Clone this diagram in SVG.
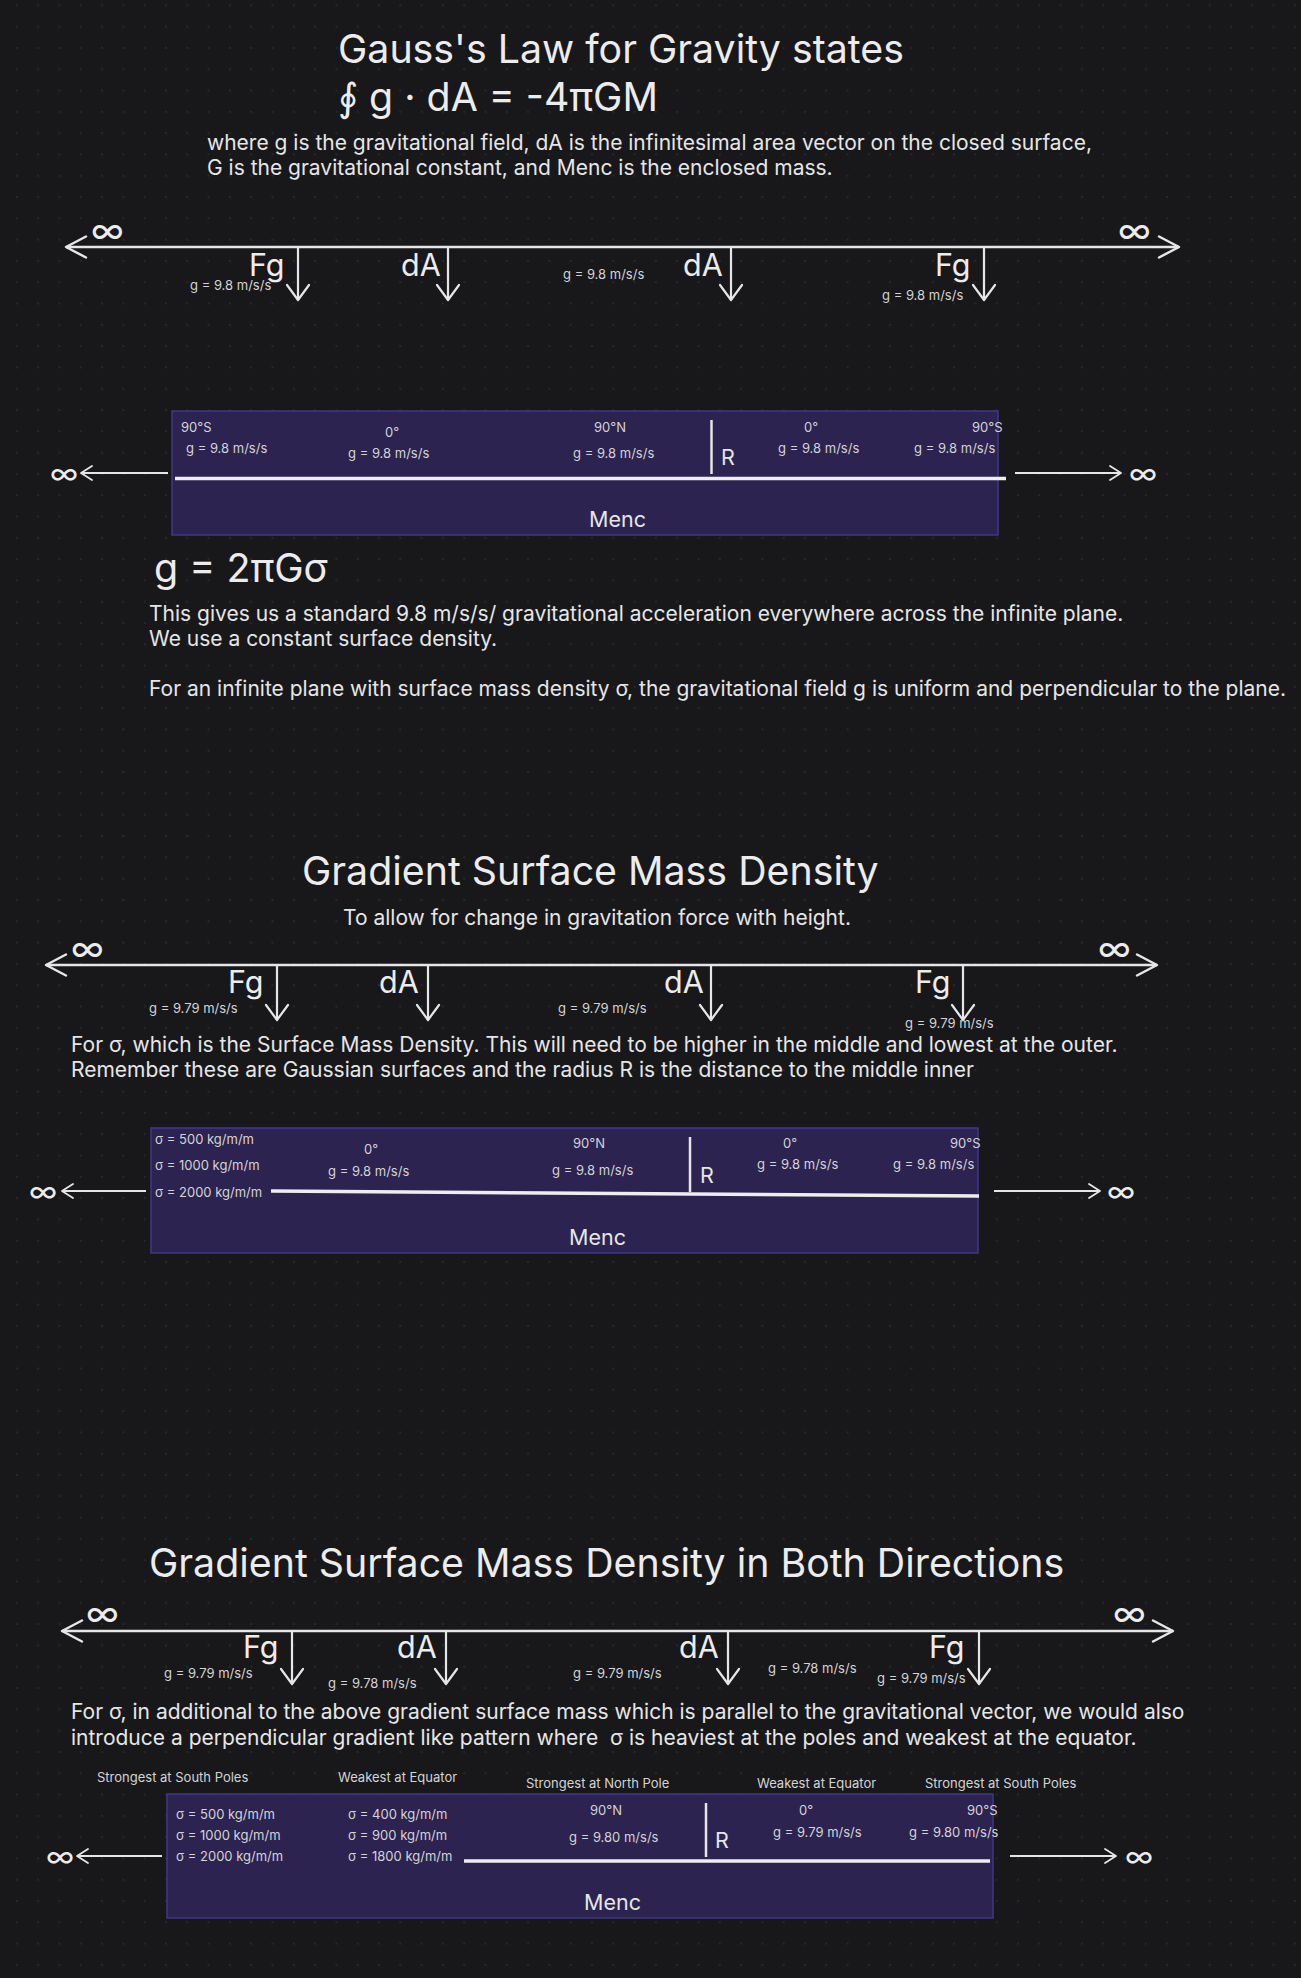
<svg xmlns="http://www.w3.org/2000/svg" width="1301" height="1978" viewBox="0 0 1301 1978">
<defs>
<pattern id="dots" x="16.9" y="5.3" width="21.3" height="21.3" patternUnits="userSpaceOnUse"><circle cx="0" cy="0" r="1" fill="#2c2c31"/><circle cx="21.3" cy="0" r="1" fill="#2c2c31"/><circle cx="0" cy="21.3" r="1" fill="#2c2c31"/><circle cx="21.3" cy="21.3" r="1" fill="#2c2c31"/></pattern>
<marker id="axHead" viewBox="-24 -14 28 28" refX="0" refY="0" markerWidth="28" markerHeight="28" markerUnits="userSpaceOnUse" orient="auto-start-reverse" overflow="visible"><path d="M-20,-10.5 L0,0 L-20,10.5" fill="none" stroke="#e6e6e6" stroke-width="2.5" stroke-linecap="round" stroke-linejoin="round"/></marker>
<marker id="downHead" viewBox="-20 -14 24 28" refX="0" refY="0" markerWidth="24" markerHeight="28" markerUnits="userSpaceOnUse" orient="auto" overflow="visible"><path d="M-15,-11 L0,0 L-15,11" fill="none" stroke="#e6e6e6" stroke-width="2.2" stroke-linecap="round" stroke-linejoin="round"/></marker>
<marker id="sideHead" viewBox="-14 -10 18 20" refX="0" refY="0" markerWidth="18" markerHeight="20" markerUnits="userSpaceOnUse" orient="auto" overflow="visible"><path d="M-11,-7 L0,0 L-11,7" fill="none" stroke="#e6e6e6" stroke-width="1.8" stroke-linecap="round" stroke-linejoin="round"/></marker>
</defs>
<style>
text{font-family:Inter,"Noto Sans","Liberation Sans",sans-serif;}
.title{font-size:39.3px;fill:#ececec;}
.body{font-size:21px;fill:#e6e6e6;}
.big{font-size:30.5px;fill:#ececec;}
.sm{font-size:13px;fill:#d4d4d4;}
.mid{font-size:21.5px;fill:#e6e6e6;}
.inf{font-size:35px;fill:#ececec;}
.infs{font-size:30px;fill:#ececec;}
.box{fill:#2c2350;stroke:#40378a;stroke-width:1.5;}
.axis{stroke:#e6e6e6;stroke-width:2.5;fill:none;}
.down{stroke:#e6e6e6;stroke-width:2.2;fill:none;}
.side{stroke:#e6e6e6;stroke-width:1.8;fill:none;}
.plane{stroke:#eeeeee;stroke-width:3.5;fill:none;}
.rline{stroke:#e6e6e6;stroke-width:2.5;fill:none;}
</style>
<rect width="1301" height="1978" fill="#18181b"/>
<rect width="1301" height="1978" fill="url(#dots)"/>

<g id="heading1">
<text class="title" x="338" y="63">Gauss's Law for Gravity states</text>
<text class="title" x="338" y="111">∮ g · dA = -4πGM</text>
</g>
<g id="intro1">
<text class="body" x="207" y="150">where g is the gravitational field, dA is the infinitesimal area vector on the closed surface,</text>
<text class="body" x="207" y="175">G is the gravitational constant, and Menc is the enclosed mass.</text>
</g>

<g id="connectors">
<line class="axis" x1="66" y1="247" x2="1179" y2="247" marker-start="url(#axHead)" marker-end="url(#axHead)"/>
<line class="down" x1="298" y1="247" x2="298" y2="300" marker-end="url(#downHead)"/>
<line class="down" x1="448" y1="247" x2="448" y2="300" marker-end="url(#downHead)"/>
<line class="down" x1="731" y1="247" x2="731" y2="300" marker-end="url(#downHead)"/>
<line class="down" x1="984" y1="247" x2="984" y2="300" marker-end="url(#downHead)"/>
<line class="side" x1="168" y1="473" x2="81" y2="473" marker-end="url(#sideHead)"/>
<line class="side" x1="1015" y1="473" x2="1121" y2="473" marker-end="url(#sideHead)"/>

<line class="axis" x1="46" y1="965" x2="1157" y2="965" marker-start="url(#axHead)" marker-end="url(#axHead)"/>
<line class="down" x1="277" y1="965" x2="277" y2="1020" marker-end="url(#downHead)"/>
<line class="down" x1="428" y1="965" x2="428" y2="1020" marker-end="url(#downHead)"/>
<line class="down" x1="711" y1="965" x2="711" y2="1020" marker-end="url(#downHead)"/>
<line class="down" x1="963" y1="965" x2="963" y2="1020" marker-end="url(#downHead)"/>
<line class="side" x1="146" y1="1191" x2="62" y2="1191" marker-end="url(#sideHead)"/>
<line class="side" x1="994" y1="1191" x2="1100" y2="1191" marker-end="url(#sideHead)"/>

<line class="axis" x1="62" y1="1631" x2="1173" y2="1631" marker-start="url(#axHead)" marker-end="url(#axHead)"/>
<line class="down" x1="292" y1="1631" x2="292" y2="1684" marker-end="url(#downHead)"/>
<line class="down" x1="446" y1="1631" x2="446" y2="1684" marker-end="url(#downHead)"/>
<line class="down" x1="728" y1="1631" x2="728" y2="1684" marker-end="url(#downHead)"/>
<line class="down" x1="979" y1="1631" x2="979" y2="1684" marker-end="url(#downHead)"/>
<line class="side" x1="162" y1="1856" x2="77" y2="1856" marker-end="url(#sideHead)"/>
<line class="side" x1="1010" y1="1856" x2="1116" y2="1856" marker-end="url(#sideHead)"/>
</g>

<g id="axis1-labels">
<text class="inf" x="91" y="243">∞</text>
<text class="inf" x="1118" y="243">∞</text>
<text class="big" x="249" y="276">Fg</text>
<text class="sm" x="190" y="290">g = 9.8 m/s/s</text>
<text class="big" x="401" y="276">dA</text>
<text class="sm" x="563" y="279">g = 9.8 m/s/s</text>
<text class="big" x="683" y="276">dA</text>
<text class="big" x="935" y="276">Fg</text>
<text class="sm" x="882" y="300">g = 9.8 m/s/s</text>
</g>

<g id="plane1">
<rect class="box" x="172" y="411" width="826" height="124"/>
<line class="plane" x1="175" y1="478.5" x2="1006" y2="478.5"/>
<line class="rline" x1="711.5" y1="420" x2="711.5" y2="474"/>
<text class="mid" x="721" y="465">R</text>
<text class="sm" x="181" y="432">90°S</text>
<text class="sm" x="186" y="453">g = 9.8 m/s/s</text>
<text class="sm" x="385" y="437">0°</text>
<text class="sm" x="348" y="458">g = 9.8 m/s/s</text>
<text class="sm" x="594" y="432">90°N</text>
<text class="sm" x="573" y="458">g = 9.8 m/s/s</text>
<text class="sm" x="804" y="432">0°</text>
<text class="sm" x="778" y="453">g = 9.8 m/s/s</text>
<text class="sm" x="972" y="432">90°S</text>
<text class="sm" x="914" y="453">g = 9.8 m/s/s</text>
<text class="mid" x="589" y="527">Menc</text>
<text class="infs" x="50" y="484">∞</text>
<text class="infs" x="1129" y="484">∞</text>
</g>

<g id="formula1">
<text x="154" y="582" style="font-size:39.4px;fill:#ececec">g = 2πGσ</text>
</g>
<g id="explain1">
<text class="body" x="149" y="621">This gives us a standard 9.8 m/s/s/ gravitational acceleration everywhere across the infinite plane.</text>
<text class="body" x="149" y="646">We use a constant surface density.</text>
<text class="body" x="149" y="696">For an infinite plane with surface mass density σ, the gravitational field g is uniform and perpendicular to the plane.</text>
</g>

<g id="heading2">
<text class="title" x="302" y="885">Gradient Surface Mass Density</text>
<text class="body" x="343" y="925">To allow for change in gravitation force with height.</text>
</g>

<g id="axis2-labels">
<text class="inf" x="71" y="961">∞</text>
<text class="inf" x="1098" y="961">∞</text>
<text class="big" x="228" y="993">Fg</text>
<text class="sm" x="149" y="1013">g = 9.79 m/s/s</text>
<text class="big" x="379" y="993">dA</text>
<text class="sm" x="558" y="1013">g = 9.79 m/s/s</text>
<text class="big" x="664" y="993">dA</text>
<text class="big" x="915" y="993">Fg</text>
<text class="sm" x="905" y="1028">g = 9.79 m/s/s</text>
</g>

<g id="explain2">
<text class="body" x="71" y="1052">For σ, which is the Surface Mass Density. This will need to be higher in the middle and lowest at the outer.</text>
<text class="body" x="71" y="1077">Remember these are Gaussian surfaces and the radius R is the distance to the middle inner</text>
</g>

<g id="plane2">
<rect class="box" x="151" y="1128" width="827" height="125"/>
<line class="plane" x1="271" y1="1191" x2="979" y2="1196"/>
<line class="rline" x1="690" y1="1137" x2="690" y2="1192"/>
<text class="mid" x="700" y="1183">R</text>
<text class="sm" x="155" y="1144">σ = 500 kg/m/m</text>
<text class="sm" x="155" y="1170">σ = 1000 kg/m/m</text>
<text class="sm" x="155" y="1197">σ = 2000 kg/m/m</text>
<text class="sm" x="364" y="1154">0°</text>
<text class="sm" x="328" y="1176">g = 9.8 m/s/s</text>
<text class="sm" x="573" y="1148">90°N</text>
<text class="sm" x="552" y="1175">g = 9.8 m/s/s</text>
<text class="sm" x="783" y="1148">0°</text>
<text class="sm" x="757" y="1169">g = 9.8 m/s/s</text>
<text class="sm" x="950" y="1148">90°S</text>
<text class="sm" x="893" y="1169">g = 9.8 m/s/s</text>
<text class="mid" x="569" y="1245">Menc</text>
<text class="infs" x="29" y="1202">∞</text>
<text class="infs" x="1107" y="1202">∞</text>
</g>

<g id="heading3">
<text class="title" x="149" y="1577">Gradient Surface Mass Density in Both Directions</text>
</g>

<g id="axis3-labels">
<text class="inf" x="86" y="1626">∞</text>
<text class="inf" x="1113" y="1626">∞</text>
<text class="big" x="243" y="1658">Fg</text>
<text class="sm" x="164" y="1678">g = 9.79 m/s/s</text>
<text class="big" x="397" y="1658">dA</text>
<text class="sm" x="328" y="1688">g = 9.78 m/s/s</text>
<text class="big" x="679" y="1658">dA</text>
<text class="sm" x="573" y="1678">g = 9.79 m/s/s</text>
<text class="sm" x="768" y="1673">g = 9.78 m/s/s</text>
<text class="big" x="929" y="1658">Fg</text>
<text class="sm" x="877" y="1683">g = 9.79 m/s/s</text>
</g>

<g id="explain3">
<text class="body" x="71" y="1719">For σ, in additional to the above gradient surface mass which is parallel to the gravitational vector, we would also</text>
<text class="body" x="71" y="1745" xml:space="preserve">introduce a perpendicular gradient like pattern where  σ is heaviest at the poles and weakest at the equator.</text>
</g>

<g id="plane3-headers">
<text class="sm" x="97" y="1782">Strongest at South Poles</text>
<text class="sm" x="338" y="1782">Weakest at Equator</text>
<text class="sm" x="526" y="1788">Strongest at North Pole</text>
<text class="sm" x="757" y="1788">Weakest at Equator</text>
<text class="sm" x="925" y="1788">Strongest at South Poles</text>
</g>

<g id="plane3">
<rect class="box" x="167" y="1794" width="826" height="124"/>
<line class="plane" x1="464" y1="1861" x2="990" y2="1861"/>
<line class="rline" x1="706" y1="1803" x2="706" y2="1857"/>
<text class="mid" x="715" y="1848">R</text>
<text class="sm" x="176" y="1819">σ = 500 kg/m/m</text>
<text class="sm" x="176" y="1840">σ = 1000 kg/m/m</text>
<text class="sm" x="176" y="1861">σ = 2000 kg/m/m</text>
<text class="sm" x="348" y="1819">σ = 400 kg/m/m</text>
<text class="sm" x="348" y="1840">σ = 900 kg/m/m</text>
<text class="sm" x="348" y="1861">σ = 1800 kg/m/m</text>
<text class="sm" x="590" y="1815">90°N</text>
<text class="sm" x="569" y="1842">g = 9.80 m/s/s</text>
<text class="sm" x="799" y="1815">0°</text>
<text class="sm" x="773" y="1837">g = 9.79 m/s/s</text>
<text class="sm" x="967" y="1815">90°S</text>
<text class="sm" x="909" y="1837">g = 9.80 m/s/s</text>
<text class="mid" x="584" y="1910">Menc</text>
<text class="infs" x="46" y="1867">∞</text>
<text class="infs" x="1125" y="1867">∞</text>
</g>
</svg>
